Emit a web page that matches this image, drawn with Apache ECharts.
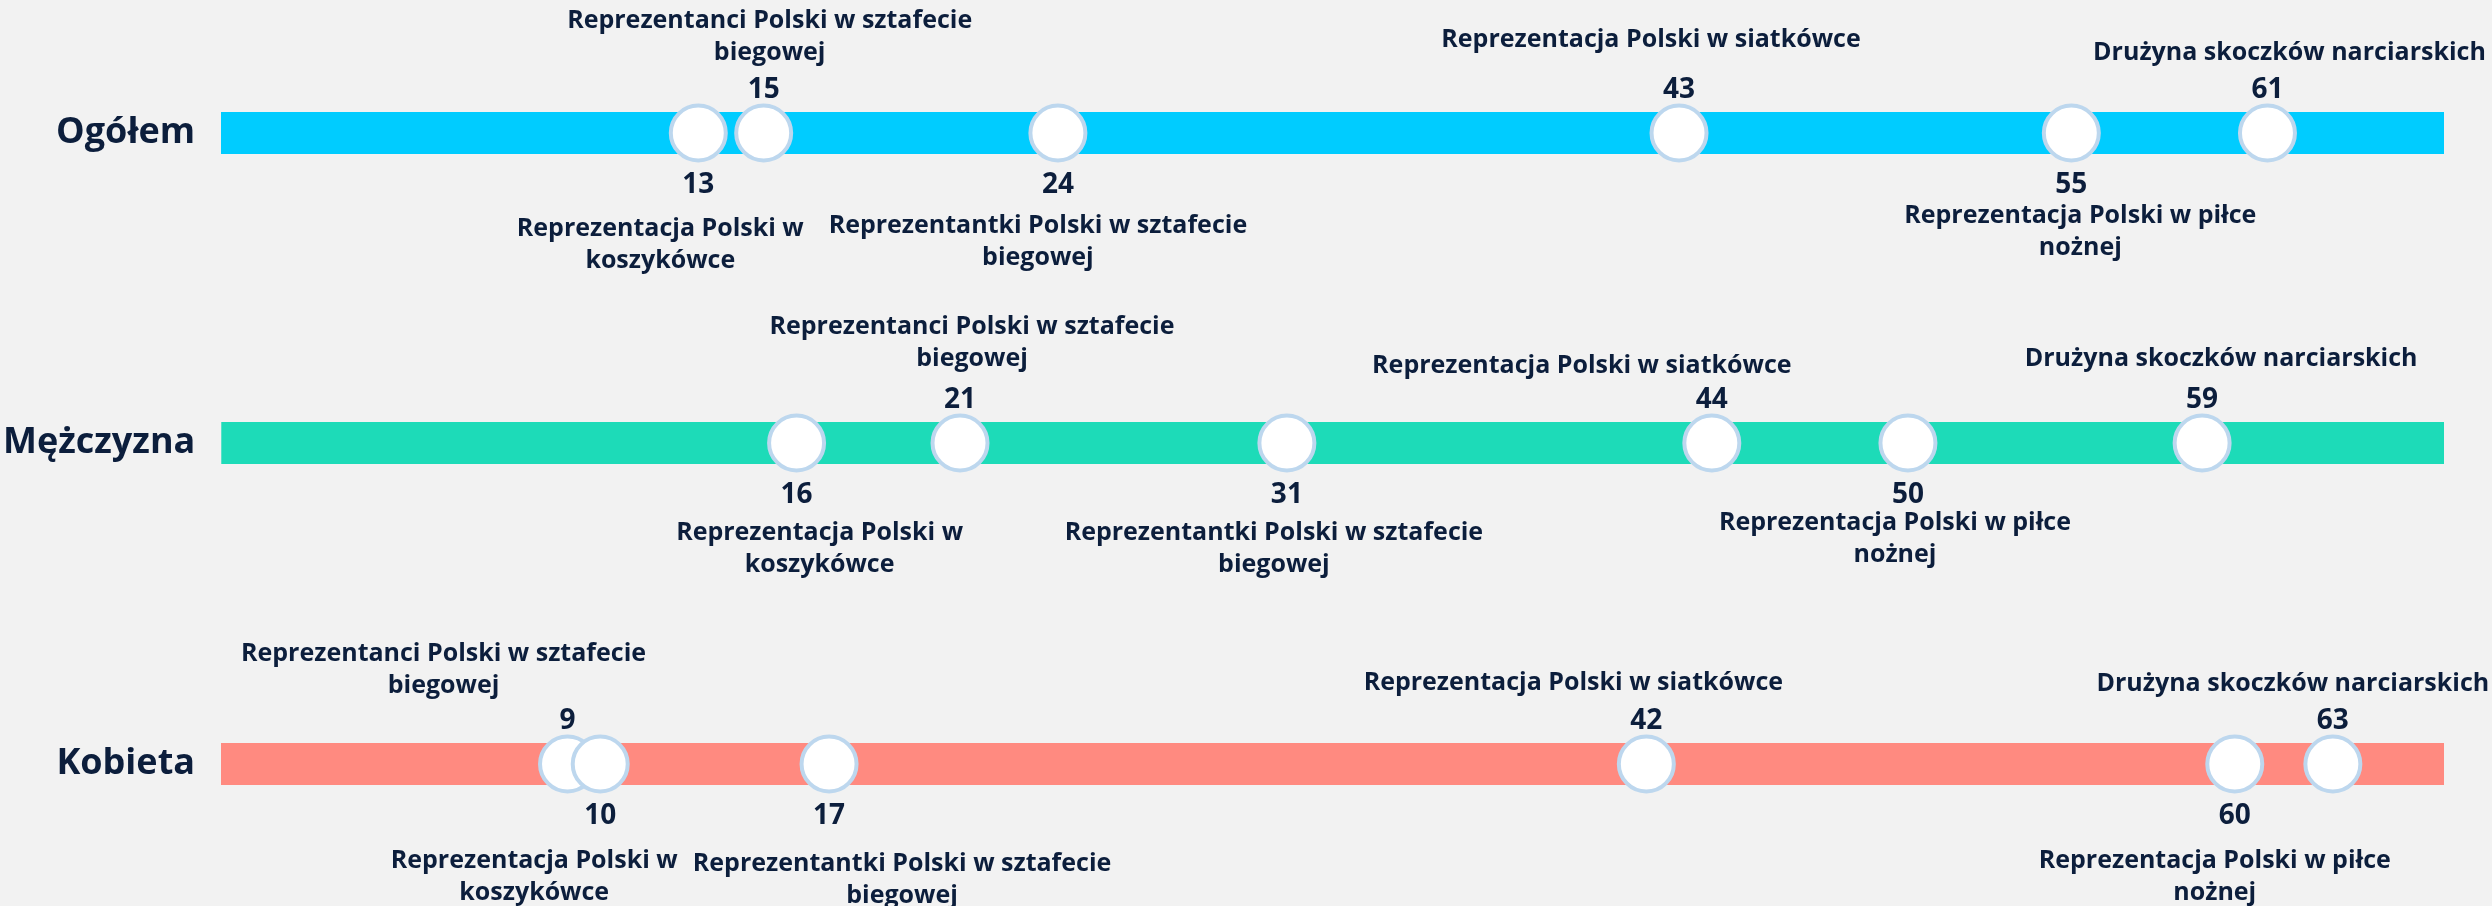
<!DOCTYPE html>
<html>
<head>
<meta charset="utf-8">
<script src="https://cdn.jsdelivr.net/npm/echarts@6/dist/echarts.min.js"></script>
<style>
  html, body { margin: 0; padding: 0; background: #f2f2f2; }
  #chart { width: 2492px; height: 906px; }
</style>
</head>
<body>
<div id="chart"></div>
<script>
// ---- data ----
const rows = ['Ogółem', 'Mężczyzna', 'Kobieta'];
const teams = [
  'Reprezentacja Polski w\nkoszykówce',
  'Reprezentanci Polski w sztafecie\nbiegowej',
  'Reprezentantki Polski w sztafecie\nbiegowej',
  'Reprezentacja Polski w siatkówce',
  'Reprezentacja Polski w piłce\nnożnej',
  'Drużyna skoczków narciarskich'
];
const ogolem    = [13, 15, 24, 43, 55, 61];
const mezczyzna = [16, 21, 31, 44, 50, 59];
const kobieta   = [10,  9, 17, 42, 60, 63];
const rowValues = [ogolem, mezczyzna, kobieta];

// ---- styling / layout ----
const rowColors = ['#00ccff', '#1ddbb8', '#ff8a80'];
const rowCenters = [133, 443, 764];
const bandH = 42;
const textColor = '#0c1e3c';
const FONT = '"Open Sans", "Noto Sans", sans-serif';
const X_MIN = -1.6, X_MAX = 66.4;
// label nudges [dx, dy] in px for the team-name labels (to keep them apart)
const nameNudge = [
  [[-38, 3], [6, 0], [-20, 0], [-28, -13], [9, -10], [22, 0]],
  [[23, -3], [12, -4], [-13, -3], [-130, 3], [-13, -13], [19, -4]],
  [[-66, 4], [-124, 2], [73, 7], [-73, -1], [-20, 4], [-40, 0]]
];

const chart = echarts.init(document.getElementById('chart'), null, { renderer: 'canvas' });

const grids = [], xAxes = [], yAxes = [], series = [];

rows.forEach((row, r) => {
  grids.push({
    left: 221, right: 48,
    top: rowCenters[r] - bandH / 2, height: bandH,
    show: true, backgroundColor: rowColors[r], borderWidth: 0
  });
  xAxes.push({ gridIndex: r, type: 'value', min: X_MIN, max: X_MAX, show: false });
  yAxes.push({
    gridIndex: r, type: 'category', data: [row],
    axisLine: { show: false }, axisTick: { show: false }, splitLine: { show: false },
    axisLabel: { margin: 26, fontSize: 36, fontWeight: 'bold', color: textColor, fontFamily: FONT }
  });

  const order = teams.map((t, i) => i).sort((a, b) => rowValues[r][a] - rowValues[r][b]);

  // circles with value labels
  series.push({
    type: 'scatter',
    xAxisIndex: r, yAxisIndex: r,
    symbol: 'circle', symbolSize: 55,
    clip: false,
    itemStyle: { color: '#ffffff', borderColor: '#bdd7ee', borderWidth: 4, opacity: 1 },
    label: {
      show: true, color: textColor, fontFamily: FONT,
      fontSize: 28, fontWeight: 'bold', lineHeight: 30
    },
    emphasis: { disabled: true },
    data: order.map(i => {
      const v = rowValues[r][i];
      const top = i % 2 === 1;
      return {
        name: teams[i], value: [v, 0],
        label: { position: top ? 'top' : 'bottom', distance: top ? -2 : 8, formatter: String(v) }
      };
    })
  });

  // team-name labels
  series.push({
    type: 'scatter',
    xAxisIndex: r, yAxisIndex: r,
    symbol: 'circle', symbolSize: 1,
    clip: false, silent: true,
    itemStyle: { color: 'rgba(0,0,0,0)', opacity: 1 },
    label: {
      show: true, color: textColor, fontFamily: FONT, opacity: 1,
      fontSize: 25, fontWeight: 'bold', lineHeight: 32, align: 'center'
    },
    emphasis: { disabled: true },
    data: order.map(i => {
      const v = rowValues[r][i];
      const top = i % 2 === 1;
      return {
        name: teams[i], value: [v, 0],
        label: {
          position: top ? 'top' : 'bottom',
          distance: top ? 64 : 76,
          offset: nameNudge[r][i],
          formatter: teams[i]
        }
      };
    })
  });
});

chart.setOption({
  backgroundColor: '#f2f2f2',
  animation: false,
  grid: grids,
  xAxis: xAxes,
  yAxis: yAxes,
  series: series
});
</script>
</body>
</html>
